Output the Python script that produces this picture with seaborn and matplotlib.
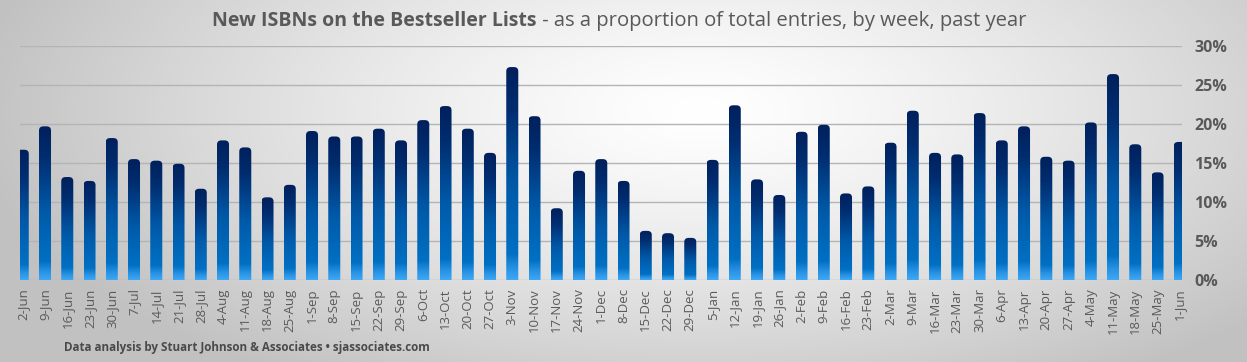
import numpy as np
import pandas as pd
import seaborn as sns
import matplotlib
matplotlib.use("Agg")
from matplotlib import pyplot as plt
from matplotlib.colors import LinearSegmentedColormap
from matplotlib.patches import FancyBboxPatch

# weekly data
weeks = ['2-Jun', '9-Jun', '16-Jun', '23-Jun', '30-Jun', '7-Jul', '14-Jul', '21-Jul', '28-Jul',
         '4-Aug', '11-Aug', '18-Aug', '25-Aug', '1-Sep', '8-Sep', '15-Sep', '22-Sep', '29-Sep',
         '6-Oct', '13-Oct', '20-Oct', '27-Oct', '3-Nov', '10-Nov', '17-Nov', '24-Nov',
         '1-Dec', '8-Dec', '15-Dec', '22-Dec', '29-Dec', '5-Jan', '12-Jan', '19-Jan', '26-Jan',
         '2-Feb', '9-Feb', '16-Feb', '23-Feb', '2-Mar', '9-Mar', '16-Mar', '23-Mar', '30-Mar',
         '6-Apr', '13-Apr', '20-Apr', '27-Apr', '4-May', '11-May', '18-May', '25-May', '1-Jun']
new_pct = [16.7, 19.7, 13.2, 12.7, 18.2, 15.5, 15.3, 14.9, 11.7,
           17.9, 17.0, 10.6, 12.2, 19.1, 18.4, 18.4, 19.4, 17.9,
           20.5, 22.3, 19.4, 16.3, 27.3, 21.0, 9.2, 14.0,
           15.5, 12.7, 6.3, 6.0, 5.4, 15.4, 22.4, 12.9, 10.9,
           19.0, 19.9, 11.1, 12.0, 17.6, 21.7, 16.3, 16.1, 21.4,
           17.9, 19.7, 15.8, 15.3, 20.2, 26.4, 17.4, 13.8, 17.7]
y_ticks = [0, 5, 10, 15, 20, 25, 30]

df = pd.DataFrame({'week': weeks, 'pct': new_pct})
fonts = ['Open Sans', 'DejaVu Sans']

W, H = 1247, 362
fig = plt.figure(figsize=(W / 100, H / 100), dpi=100)

# radial grey background
bg = fig.add_axes([0, 0, 1, 1], zorder=-10)
yy, xx = np.mgrid[0:H, 0:W]
r = np.sqrt(((xx - 700) / 750.0) ** 2 + ((yy - 110) / 330.0) ** 2)
shade = np.clip(1.0 - 0.25 * r ** 1.3, 0.76, 1.0)
bg.imshow(np.dstack([shade] * 3), aspect='auto', extent=[0, 1, 0, 1])
bg.set_axis_off()

ax = fig.add_axes([20 / W, 82 / H, (1182 - 20) / W, (280 - 46) / H])
ax.patch.set_alpha(0)
sns.barplot(data=df, x='week', y='pct', color='#0070c0', width=0.54, ax=ax, zorder=2)

cmap = LinearSegmentedColormap.from_list('barfade', [
    (0.0, '#3da8f6'), (0.05, '#2a93e4'), (0.12, '#0070c4'), (0.45, '#0059a8'), (0.8, '#002d70'), (1.0, '#00205c')])
grad = np.linspace(0, 1, 256).reshape(-1, 1)
for p in list(ax.patches):
    x0, w, h = p.get_x(), p.get_width(), p.get_height()
    p.set_visible(False)
    # clip box starts below zero so only the top corners show rounding
    clip = FancyBboxPatch((x0, -3), w, h + 3, boxstyle='round,pad=0,rounding_size=0.2',
                          mutation_aspect=2.6, transform=ax.transData, facecolor='none', edgecolor='none')
    ax.add_patch(clip)
    im = ax.imshow(grad, cmap=cmap, origin='lower', aspect='auto', extent=[x0, x0 + w, 0, h], zorder=2)
    im.set_clip_path(clip)

ax.set_xlim(-0.124, 52.1)
ax.set_ylim(0, 30)
ax.set_yticks(y_ticks)
ax.set_yticklabels([f'{t}%' for t in y_ticks], fontsize=11.5, fontweight='bold', color='#595959', family=fonts)
ax.yaxis.tick_right()
ax.tick_params(axis='y', length=0, pad=9)
ax.tick_params(axis='x', length=0, pad=6)
ax.set_xticks(range(len(weeks)))
ax.set_xticklabels(weeks, rotation=90, fontsize=9.5, color='#5a5a5a', family=fonts)
ax.grid(axis='y', color='#b4b4b4', linewidth=1, zorder=0)
ax.grid(axis='x', visible=False)
ax.set_axisbelow(True)
ax.set_xlabel('')
ax.set_ylabel('')
for s in ax.spines.values():
    s.set_visible(False)

split = 537 / W
fig.text(split, 1 - 21 / H, 'New ISBNs on the Bestseller Lists', ha='right', va='center',
         fontsize=14, fontweight='bold', color='#595959', family=fonts)
fig.text(split, 1 - 21 / H, ' - as a proportion of total entries, by week, past year', ha='left', va='center',
         fontsize=14.6, color='#595959', family=fonts)
fig.text(64 / W, 1 - 347 / H, 'Data analysis by Stuart Johnson & Associates \u2022 sjassociates.com',
         ha='left', va='center', fontsize=8.4, fontweight='bold', color='#4a4a4a', family=fonts)

fig.savefig('out.png', dpi=100)
